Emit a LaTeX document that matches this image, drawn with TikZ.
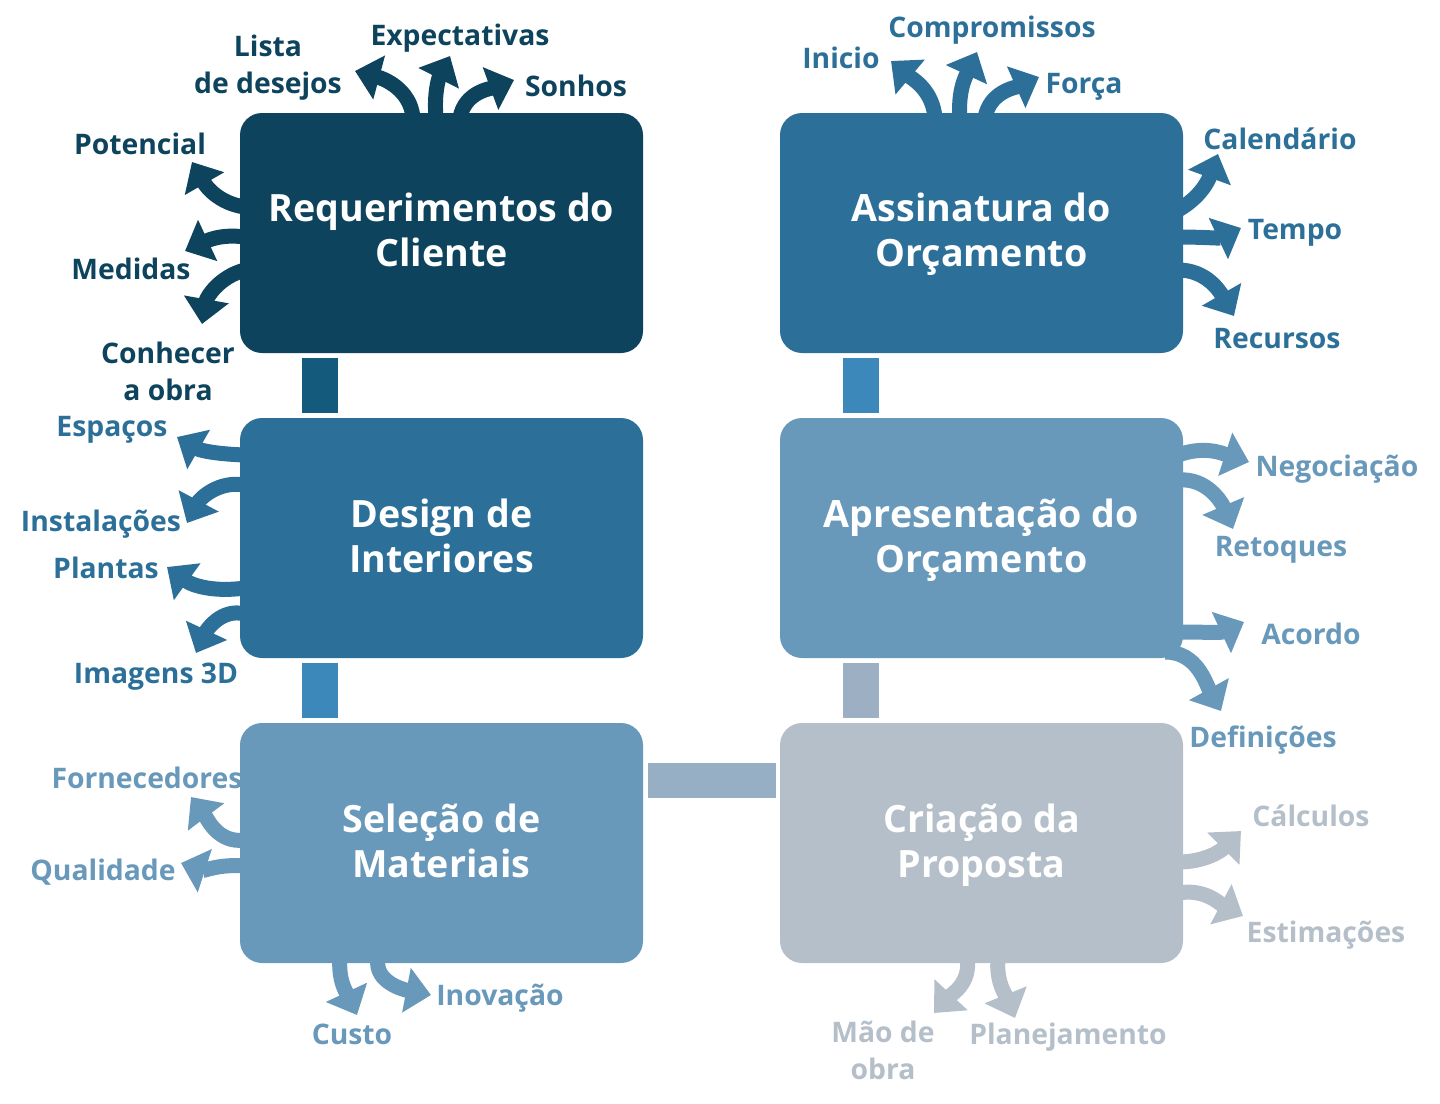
\documentclass[tikz,border=0pt]{standalone}
\usepackage{fontspec}
\setmainfont{Open Sans}
\usetikzlibrary{arrows.meta}
\definecolor{cA}{HTML}{0D435C}
\definecolor{cB}{HTML}{2C7099}
\definecolor{cC}{HTML}{6898BA}
\definecolor{cD}{HTML}{B4BFC9}
\definecolor{k12}{HTML}{135A7D}
\definecolor{k23}{HTML}{3C88BB}
\definecolor{k34}{HTML}{97AFC4}
\definecolor{k45}{HTML}{9DB0C3}
\definecolor{k56}{HTML}{3C88BB}
\pgfdeclarelayer{bg}
\pgfsetlayers{bg,main}
\tikzset{
  box/.style={rounded corners=22pt, minimum width=403pt, minimum height=240pt, inner sep=0pt},
  ttl/.style={text=white, align=center, inner sep=0pt, text depth=0pt, font=\bfseries\fontsize{37.6}{45}\selectfont},
  lbl/.style={align=center, inner sep=0pt, font=\bfseries\fontsize{28.3}{37}\selectfont},
  arr/.style={line width=15pt, -{Triangle[length=25pt,width=44pt]}},
  bar/.style={line width=36pt}
}
\begin{document}
\begin{tikzpicture}[x=1pt,y=-1pt]
\useasboundingbox (0,0) rectangle (1440,1103);
% boxes
\node[box, fill=cA, label={[ttl,yshift=3pt]center:Requerimentos do\\Cliente}] (b1) at (441.5,233) {};
\node[box, fill=cB, label={[ttl,yshift=2pt]center:Design de\\Interiores}] (b2) at (441.5,538) {};
\node[box, fill=cC, label={[ttl,yshift=2pt]center:Seleção de\\Materiais}] (b3) at (441.5,843) {};
\node[box, fill=cD, label={[ttl,yshift=2pt]center:Criação da\\Proposta}] (b4) at (981.5,843) {};
\node[box, fill=cC, label={[ttl,yshift=2pt]center:Apresentação do\\Orçamento}] (b5) at (981.5,538) {};
\node[box, fill=cB, label={[ttl,yshift=3pt]center:Assinatura do\\Orçamento}] (b6) at (981.5,233) {};
% bars between boxes
\draw[bar, k12] ([xshift=-121.5pt,yshift=-5pt]b1.south) -- ([xshift=-121.5pt,yshift=5pt]b2.north);
\draw[bar, k23] ([xshift=-121.5pt,yshift=-5pt]b2.south) -- ([xshift=-121.5pt,yshift=5pt]b3.north);
\draw[line width=35pt, k34] ([xshift=5pt,yshift=62.5pt]b3.east) -- ([xshift=-4pt,yshift=62.5pt]b4.west);
\draw[bar, k45] ([xshift=-120.5pt,yshift=5pt]b4.north) -- ([xshift=-120.5pt,yshift=-5pt]b5.south);
\draw[bar, k56] ([xshift=-120.5pt,yshift=5pt]b5.north) -- ([xshift=-120.5pt,yshift=-5pt]b6.south);
% labels
\node[lbl, text=cA] (lLista) at (268,68) {Lista\\de desejos};
\node[lbl, text=cA] (lExp) at (460,38) {Expectativas};
\node[lbl, text=cA] (lSon) at (576,86) {Sonhos};
\node[lbl, text=cA] (lPot) at (140,144) {Potencial};
\node[lbl, text=cA] (lMed) at (131,269) {Medidas};
\node[lbl, text=cA] (lCon) at (168,371) {Conhecer\\a obra};
\node[lbl, text=cB] (lEsp) at (112,430) {Espaços};
\node[lbl, text=cB] (lIns) at (101,524) {Instalações};
\node[lbl, text=cB] (lPla) at (106,568) {Plantas};
\node[lbl, text=cB] (lIma) at (156,677) {Imagens 3D};
\node[lbl, text=cC] (lFor) at (147,778) {Fornecedores};
\node[lbl, text=cC] (lQua) at (103,872) {Qualidade};
\node[lbl, text=cC] (lCus) at (352,1034) {Custo};
\node[lbl, text=cC] (lIno) at (500,998) {Inovação};
\node[lbl, text=cD] (lMao) at (883,1050) {Mão de\\obra};
\node[lbl, text=cD] (lPlan) at (1068,1037) {Planejamento};
\node[lbl, text=cD] (lCal) at (1311,816) {Cálculos};
\node[lbl, text=cD] (lEst) at (1326,935) {Estimações};
\node[lbl, text=cC] (lDef) at (1263,740) {Definições};
\node[lbl, text=cC] (lAco) at (1311,634) {Acordo};
\node[lbl, text=cC] (lRet) at (1281,550) {Retoques};
\node[lbl, text=cC] (lNeg) at (1337,469) {Negociação};
\node[lbl, text=cB] (lRec) at (1277,339) {Recursos};
\node[lbl, text=cB] (lTem) at (1295,233) {Tempo};
\node[lbl, text=cB] (lCale) at (1280,139) {Calendário};
\node[lbl, text=cB] (lIni) at (841,58) {Inicio};
\node[lbl, text=cB] (lCom) at (992,30) {Compromissos};
\node[lbl, text=cB] (lFor2) at (1084,87) {Força};
% arrow tips
\coordinate (t1) at (355,71);
\coordinate (t2) at (450,56);
\coordinate (t3) at (514,80);
\coordinate (t4) at (192,162);
\coordinate (t5) at (185,251);
\coordinate (t6) at (202,324);
\coordinate (t7) at (177,437);
\coordinate (t8) at (187,523);
\coordinate (t9) at (167,567);
\coordinate (t10) at (196,653);
\coordinate (t11) at (191,797);
\coordinate (t12) at (181,863);
\coordinate (t13) at (357,1015);
\coordinate (t14) at (431,995);
\coordinate (t15) at (934,1013);
\coordinate (t16) at (1015,1018);
\coordinate (t17) at (1241,831);
\coordinate (t18) at (1243,916);
\coordinate (t19) at (1249,462);
\coordinate (t20) at (1233,529);
\coordinate (t21) at (1244,622);
\coordinate (t22) at (1221,711);
\coordinate (t23) at (891,61);
\coordinate (t24) at (977,52);
\coordinate (t25) at (1039,77);
\coordinate (t26) at (1218,154);
\coordinate (t27) at (1241,228);
\coordinate (t28) at (1234,316);
\begin{pgfonlayer}{bg}
% box 1
\draw[arr, cA] ([xshift=-28.5pt,yshift=-5pt]b1.north) to[out=95,in=-15] (t1);
\draw[arr, cA] ([xshift=-5.5pt,yshift=-5pt]b1.north) to[out=95,in=-117] (t2);
\draw[arr, cA] ([xshift=18.5pt,yshift=-5pt]b1.north) to[out=80,in=-160] (t3);
\draw[arr, cA] ([xshift=5pt,yshift=26pt]b1.west) to[out=172,in=-60] (t4);
\draw[arr, cA] ([xshift=5pt,yshift=-4pt]b1.west) to[out=172,in=25] (t5);
\draw[arr, cA] ([xshift=5pt,yshift=-37pt]b1.west) to[out=195,in=80] (t6);
% box 2
\draw[arr, cB] ([xshift=5pt,yshift=83pt]b2.west) to[out=178,in=-30] (t7);
\draw[arr, cB] ([xshift=5pt,yshift=53pt]b2.west) to[out=170,in=62] (t8);
\draw[arr, cB] ([xshift=5pt,yshift=-50pt]b2.west) to[out=188,in=-36] (t9);
\draw[arr, cB] ([xshift=5pt,yshift=-76pt]b2.west) to[out=165,in=65] (t10);
% box 3
\draw[arr, cC] ([xshift=5pt,yshift=3pt]b3.west) to[out=188,in=-53] (t11);
\draw[arr, cC] ([xshift=5pt,yshift=-23pt]b3.west) to[out=175,in=-18] (t12);
\draw[arr, cC] ([xshift=-101.5pt,yshift=5pt]b3.south) to[out=-95,in=115] (t13);
\draw[arr, cC] ([xshift=-63.5pt,yshift=5pt]b3.south) to[out=-100,in=169] (t14);
% box 4
\draw[arr, cD] ([xshift=-14.5pt,yshift=5pt]b4.south) to[out=-80,in=47] (t15);
\draw[arr, cD] ([xshift=16.5pt,yshift=5pt]b4.south) to[out=-95,in=112] (t16);
\draw[arr, cD] ([xshift=-5pt,yshift=-19pt]b4.east) to[out=0,in=-135] (t17);
\draw[arr, cD] ([xshift=-5pt,yshift=-50pt]b4.east) to[out=10,in=152] (t18);
% box 5
\draw[arr, cC] ([xshift=-5pt,yshift=83pt]b5.east) to[out=20,in=162] (t19);
\draw[arr, cC] ([xshift=-5pt,yshift=58pt]b5.east) to[out=5,in=113] (t20);
\draw[arr, cC] ([xshift=-5pt,yshift=-94pt]b5.east) to[out=0,in=-155] (t21);
\draw[arr, cC] ([xshift=-18pt,yshift=-114pt]b5.east) to[out=0,in=119] (t22);
% box 6
\draw[arr, cB] ([xshift=-46.5pt,yshift=-5pt]b6.north) to[out=95,in=-40] (t23);
\draw[arr, cB] ([xshift=-21.5pt,yshift=-5pt]b6.north) to[out=95,in=-115] (t24);
\draw[arr, cB] ([xshift=3.5pt,yshift=-5pt]b6.north) to[out=80,in=-156] (t25);
\draw[arr, cB] ([xshift=-5pt,yshift=23pt]b6.east) to[out=30,in=-110] (t26);
\draw[arr, cB] ([xshift=-5pt,yshift=-4pt]b6.east) to[out=0,in=-155] (t27);
\draw[arr, cB] ([xshift=-5pt,yshift=-37pt]b6.east) to[out=0,in=120] (t28);
\end{pgfonlayer}
\end{tikzpicture}
\end{document}
